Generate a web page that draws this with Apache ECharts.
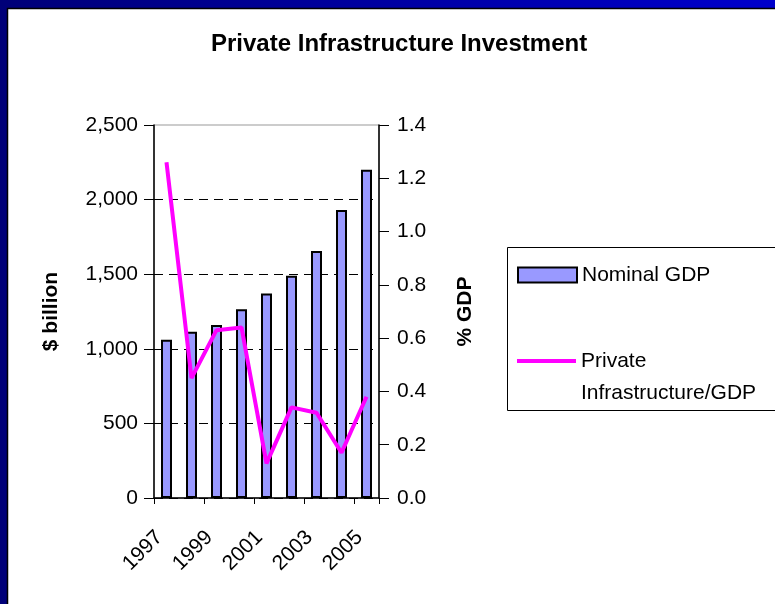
<!DOCTYPE html>
<html>
<head>
<meta charset="utf-8">
<script src="https://cdn.jsdelivr.net/npm/echarts@6/dist/echarts.min.js"></script>
<style>
  html, body { margin: 0; padding: 0; }
  #chart { width: 775px; height: 604px; }
</style>
</head>
<body>
<div id="chart"></div>
<script>
var years = ['1997', '1998', '1999', '2000', '2001', '2002', '2003', '2004', '2005'];
var nominalGdp = [1060, 1115, 1160, 1265, 1370, 1490, 1655, 1930, 2200];
var privateShare = [1.26, 0.45, 0.63, 0.64, 0.13, 0.34, 0.32, 0.17, 0.38];

var FONT = '"Liberation Sans", Arial, sans-serif';

var chart = echarts.init(document.getElementById('chart'));
var option = {
    backgroundColor: new echarts.graphic.LinearGradient(0, 0, 1, 0, [
        { offset: 0, color: '#000078' },
        { offset: 1, color: '#0000cc' }
    ]),
    textStyle: { fontFamily: FONT, color: '#000' },
    animation: false,
    graphic: [
        {
            type: 'rect', z: -10, silent: true,
            shape: { x: 7.5, y: 8.5, width: 800, height: 700 },
            style: { fill: '#fff', stroke: '#000', lineWidth: 1.5 }
        },
        {
            type: 'rect', z: -5, silent: true,
            shape: { x: 507.5, y: 247.5, width: 300, height: 163 },
            style: { fill: '#fff', stroke: '#000', lineWidth: 1 }
        }
    ],
    title: {
        text: 'Private Infrastructure Investment',
        left: 211,
        top: 32,
        padding: 0,
        textStyle: { fontFamily: FONT, fontSize: 24, fontWeight: 'bold', color: '#000' }
    },
    legend: [
        {
            data: ['Nominal GDP'],
            left: 517, top: 264, padding: 0,
            icon: 'rect',
            itemWidth: 59, itemHeight: 15,
            textStyle: { fontFamily: FONT, fontSize: 21, lineHeight: 22, color: '#000' }
        },
        {
            data: ['Private Infrastructure/GDP'],
            left: 517, top: 313, padding: 0,
            icon: 'rect',
            itemWidth: 59, itemHeight: 4,
            formatter: function () { return '\nPrivate\nInfrastructure/GDP'; },
            textStyle: { fontFamily: FONT, fontSize: 21, lineHeight: 32, color: '#000' }
        }
    ],
    grid: {
        left: 154, right: 396, top: 125, bottom: 106,
        show: true, borderColor: '#999', borderWidth: 1,
        containLabel: false
    },
    xAxis: {
        type: 'category',
        data: years,
        boundaryGap: true,
        axisLine: { lineStyle: { color: '#000', width: 1.5 } },
        axisTick: { show: true, length: 6, lineStyle: { color: '#000' } },
        axisLabel: {
            interval: 1, rotate: 45, fontSize: 21, color: '#000',
            fontFamily: FONT, margin: 29, padding: [0, 10, 0, 0]
        }
    },
    yAxis: [
        {
            type: 'value',
            min: 0, max: 2500, interval: 500,
            name: '$ billion',
            nameLocation: 'middle',
            nameGap: 92,
            nameTextStyle: { fontFamily: FONT, fontSize: 21, fontWeight: 'bold', color: '#000' },
            axisLine: { show: true, lineStyle: { color: '#000', width: 1.5 } },
            axisTick: { show: true, length: 10, lineStyle: { color: '#000' } },
            axisLabel: {
                fontSize: 21, color: '#000', fontFamily: FONT, margin: 16,
                formatter: function (v) { return v.toLocaleString('en-US'); }
            },
            splitLine: {
                show: true, showMaxLine: false,
                lineStyle: { color: '#000', type: [9, 6], width: 1 }
            }
        },
        {
            type: 'value',
            min: 0, max: 1.4, interval: 0.2,
            name: '% GDP',
            nameLocation: 'middle',
            nameGap: 76,
            nameTextStyle: { fontFamily: FONT, fontSize: 21, fontWeight: 'bold', color: '#000' },
            axisLine: { show: true, lineStyle: { color: '#000', width: 1.5 } },
            axisTick: { show: true, length: 10, lineStyle: { color: '#000' } },
            axisLabel: {
                fontSize: 21, color: '#000', fontFamily: FONT, margin: 18,
                formatter: function (v) { return v.toFixed(1); }
            },
            splitLine: { show: false }
        }
    ],
    series: [
        {
            name: 'Nominal GDP',
            type: 'bar',
            yAxisIndex: 0,
            data: nominalGdp,
            barWidth: 11,
            itemStyle: { color: '#9999ff', borderColor: '#000', borderWidth: 2 }
        },
        {
            name: 'Private Infrastructure/GDP',
            type: 'line',
            yAxisIndex: 1,
            data: privateShare,
            symbol: 'none',
            lineStyle: { color: '#ff00ff', width: 4 },
            itemStyle: { color: '#ff00ff' }
        }
    ]
};
chart.setOption(option);
</script>
</body>
</html>
